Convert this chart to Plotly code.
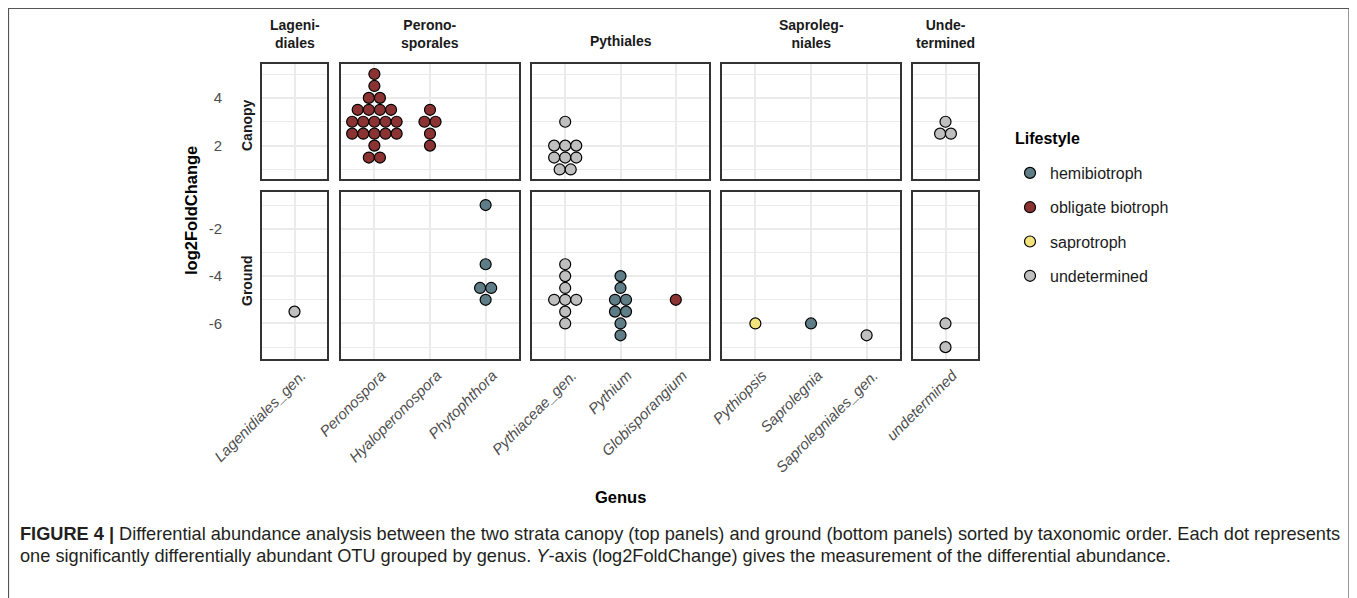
import plotly.graph_objects as go
from collections import defaultdict

W, H = 1357, 598
OX, OY = 8, 8  # page body margin of the browser

# ---------------- data ----------------
order_labels = ["Lageni-<br>diales", "Perono-<br>sporales", "Pythiales", "Saproleg-<br>niales", "Unde-<br>termined"]
order_genera = [
    ["Lagenidiales_gen."],
    ["Peronospora", "Hyaloperonospora", "Phytophthora"],
    ["Pythiaceae_gen.", "Pythium", "Globisporangium"],
    ["Pythiopsis", "Saprolegnia", "Saprolegniales_gen."],
    ["undetermined"],
]
strata = ["Canopy", "Ground"]
lifestyles = ["hemibiotroph", "obligate biotroph", "saprotroph", "undetermined"]
life_colors = ["#5e7d86", "#8b3232", "#f3e37c", "#bfbfbf"]

canopy_genus = (["Peronospora"] * 21 + ["Hyaloperonospora"] * 5 +
                ["Pythiaceae_gen."] * 9 + ["undetermined"] * 3)
canopy_lfc = ([5, 4.5, 4, 4, 3.5, 3.5, 3.5, 3.5, 3, 3, 3, 3, 3, 2.5, 2.5, 2.5, 2.5, 2.5, 2, 1.5, 1.5] +
              [3.5, 3, 3, 2.5, 2] +
              [3, 2, 2, 2, 1.5, 1.5, 1.5, 1, 1] +
              [3, 2.5, 2.5])
canopy_life = (["obligate biotroph"] * 26 + ["undetermined"] * 12)

ground_genus = (["Lagenidiales_gen."] + ["Phytophthora"] * 5 + ["Pythiaceae_gen."] * 8 +
                ["Pythium"] * 8 + ["Globisporangium"] + ["Pythiopsis"] + ["Saprolegnia"] +
                ["Saprolegniales_gen."] + ["undetermined"] * 2)
ground_lfc = ([-5.5] + [-1, -3.5, -4.5, -4.5, -5] +
              [-3.5, -4, -4.5, -5, -5, -5, -5.5, -6] +
              [-4, -4.5, -5, -5, -5.5, -5.5, -6, -6.5] +
              [-5] + [-6] + [-6] + [-6.5] + [-6, -7])
ground_life = (["undetermined"] + ["hemibiotroph"] * 5 + ["undetermined"] * 8 +
               ["hemibiotroph"] * 8 + ["obligate biotroph"] + ["saprotroph"] + ["hemibiotroph"] +
               ["undetermined"] * 3)

canopy_ticks = [2, 4]
ground_ticks = [-6, -4, -2]
canopy_minor = [1, 3, 5]
ground_minor = [-7, -5, -3, -1]
canopy_range = [0.6, 5.42]
ground_range = [-7.5, -0.45]

# ---------------- layout geometry (screen pixels) ----------------
panel_x = [(262, 327), (341, 519), (532, 709), (722, 900), (913, 978)]
row_y = [(64, 179), (192, 359)]


def PX(x):
    return (x - OX) / W


def PY(y):
    return 1 - (y - OY) / H


BINW = 0.5
DOTW = 0.2


def stack_offsets(genus, lfc):
    groups = defaultdict(list)
    for i, (g, v) in enumerate(zip(genus, lfc)):
        groups[(g, round(v / BINW))].append(i)
    off = [0.0] * len(genus)
    for idx in groups.values():
        n = len(idx)
        for k, i in enumerate(idx):
            off[i] = (k - (n - 1) / 2) * DOTW
    return off


rows = [
    (canopy_genus, canopy_lfc, canopy_life, canopy_range, canopy_ticks, canopy_minor),
    (ground_genus, ground_lfc, ground_life, ground_range, ground_ticks, ground_minor),
]

fig = go.Figure()
layout = {}
FONT = "Liberation Sans, Arial, sans-serif"
GRID = "#ebebeb"
BORDER = "#333333"
shown = set()

for r, (gen, lfc, life, yr, yt, ym) in enumerate(rows):
    offs = stack_offsets(gen, lfc)
    for p, genera in enumerate(order_genera):
        k = r * 5 + p + 1
        xs = "x" if k == 1 else f"x{k}"
        ys = "y" if k == 1 else f"y{k}"
        # placeholder so that empty panels are still drawn
        fig.add_trace(go.Scatter(x=[None], y=[None], mode="markers", xaxis=xs, yaxis=ys,
                                 showlegend=False, hoverinfo="skip"))
        for li, ls in enumerate(lifestyles):
            px, py = [], []
            for g, v, l, o in zip(gen, lfc, life, offs):
                if g in genera and l == ls:
                    px.append(genera.index(g) + 1 + o)
                    py.append(v)
            if not px:
                continue
            fig.add_trace(go.Scatter(
                x=px, y=py, mode="markers", xaxis=xs, yaxis=ys,
                name=ls, legendgroup=ls, legendrank=li + 1,
                showlegend=ls not in shown,
                marker=dict(size=11, color=life_colors[li], line=dict(color="black", width=1.2)),
                hoverinfo="x+y+name",
            ))
            shown.add(ls)
        x0, x1 = panel_x[p]
        y0, y1 = row_y[r]
        n = len(genera)
        layout["xaxis" if k == 1 else f"xaxis{k}"] = dict(
            domain=[PX(x0), PX(x1)], range=[0.4, n + 0.6], anchor=ys,
            tickmode="array", tickvals=list(range(1, n + 1)), ticktext=genera,
            showticklabels=(r == 1), tickangle=-45, ticks="", ticklabelshift=7,
            tickfont=dict(family=FONT, size=15, color="#4d4d4d", style="italic"),
            showgrid=True, gridcolor=GRID, gridwidth=1.6, zeroline=False,
            showline=True, mirror=True, linecolor=BORDER, linewidth=1.8,
            automargin=False, fixedrange=True,
        )
        layout["yaxis" if k == 1 else f"yaxis{k}"] = dict(
            domain=[PY(y1), PY(y0)], range=yr, anchor=xs,
            tickmode="array", tickvals=yt, ticktext=[str(v) for v in yt],
            showticklabels=(p == 0), ticks="", ticklabelstandoff=35,
            tickfont=dict(family=FONT, size=15, color="#4d4d4d"),
            showgrid=True, gridcolor=GRID, gridwidth=1.6, zeroline=False,
            minor=dict(tickvals=ym, showgrid=True, gridcolor=GRID, gridwidth=1),
            showline=True, mirror=True, linecolor=BORDER, linewidth=1.8,
            automargin=False, fixedrange=True,
        )

annotations = []
# top strip labels
for p, lab in enumerate(order_labels):
    x0, x1 = panel_x[p]
    cy = 33.5 if "<br>" in lab else 41
    annotations.append(dict(text=f"<b>{lab}</b>", x=PX((x0 + x1) / 2), y=PY(cy),
                            xref="paper", yref="paper", showarrow=False,
                            font=dict(family=FONT, size=14, color="#1a1a1a"),
                            xanchor="center", yanchor="middle"))
# side strip labels
for r, lab in enumerate(strata):
    cy = [125, 281][r]
    annotations.append(dict(text=f"<b>{lab}</b>", x=PX(247), y=PY(cy), textangle=-90,
                            xref="paper", yref="paper", showarrow=False,
                            font=dict(family=FONT, size=14, color="#1a1a1a"),
                            xanchor="center", yanchor="middle"))
# axis titles
annotations.append(dict(text="<b>log2FoldChange</b>", x=PX(191), y=PY(211), textangle=-90,
                        xref="paper", yref="paper", showarrow=False,
                        font=dict(family=FONT, size=16.5, color="#000000"),
                        xanchor="center", yanchor="middle"))
annotations.append(dict(text="<b>Genus</b>", x=PX(620), y=PY(497),
                        xref="paper", yref="paper", showarrow=False,
                        font=dict(family=FONT, size=16.5, color="#000000"),
                        xanchor="center", yanchor="middle"))
# legend title
annotations.append(dict(text="<b>Lifestyle</b>", x=PX(1013), y=PY(139),
                        xref="paper", yref="paper", showarrow=False,
                        font=dict(family=FONT, size=16, color="#000000"),
                        xanchor="left", yanchor="middle"))
# caption
cap1 = ("<b>FIGURE 4 |</b> Differential abundance analysis between the two strata canopy (top panels) "
        "and ground (bottom panels) sorted by taxonomic order. Each dot represents")
cap2 = ("one significantly differentially abundant OTU grouped by genus. <i>Y</i>-axis (log2FoldChange) "
        "gives the measurement of the differential abundance.")
for txt, cy in [(cap1, 534), (cap2, 556)]:
    annotations.append(dict(text=txt, x=PX(18), y=PY(cy), xref="paper", yref="paper",
                            showarrow=False, xanchor="left", yanchor="middle",
                            font=dict(family=FONT, size=18.2, color="#231f20")))

shapes = [dict(type="rect", xref="paper", yref="paper", x0=PX(8.5), x1=PX(1349),
               y0=-0.1, y1=PY(8.5), line=dict(color="#555555", width=1.2),
               fillcolor="rgba(0,0,0,0)", layer="below")]

fig.update_layout(
    template="none",
    width=W, height=H,
    margin=dict(l=0, r=0, t=0, b=0),
    paper_bgcolor="white", plot_bgcolor="white",
    font=dict(family=FONT, color="#1a1a1a"),
    showlegend=True,
    legend=dict(
        x=PX(1010), y=PY(156), xanchor="left", yanchor="top",
        font=dict(family=FONT, size=16, color="#1a1a1a"),
        tracegroupgap=10.5, traceorder="grouped", bgcolor="rgba(0,0,0,0)",
    ),
    annotations=annotations,
    shapes=shapes,
    **layout,
)

fig.write_html("out.html")
